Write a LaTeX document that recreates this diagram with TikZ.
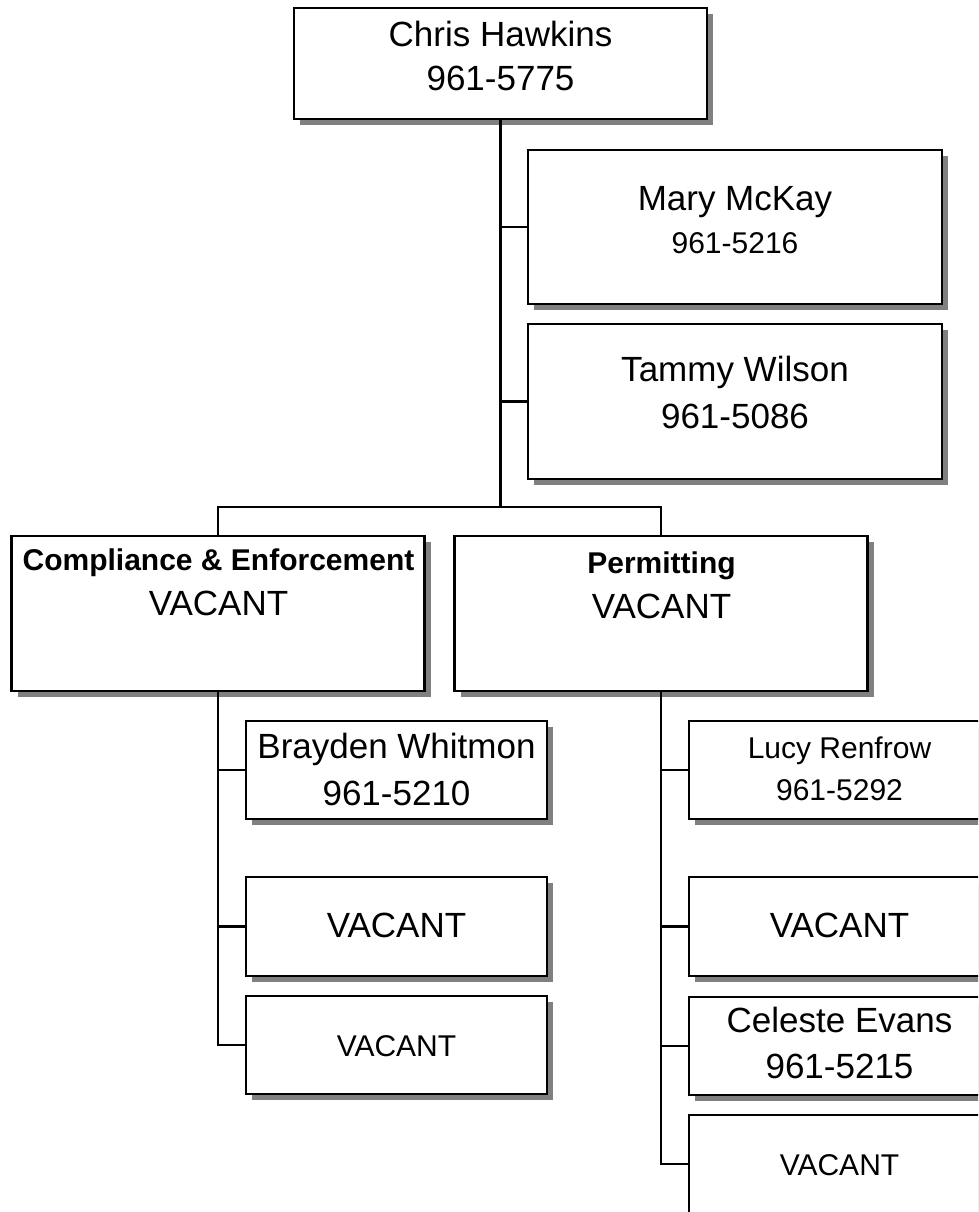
\documentclass[tikz,border=0pt]{standalone}
\usepackage{fontspec}
\setmainfont{Liberation Sans}
\usetikzlibrary{shadows}
\definecolor{shadowgray}{RGB}{128,128,128}
\begin{document}
\begin{tikzpicture}[x=1pt,y=-1pt,
  orgbox/.style={draw=black, line width=2.8pt, fill=white, rectangle, inner sep=0pt, outer sep=0pt,
    drop shadow={shadow xshift=6pt, shadow yshift=-6pt, fill=shadowgray, opacity=1}},
  link/.style={draw=black, line width=2.3pt},
  big/.style={font=\fontsize{35}{42}\selectfont, anchor=base, inner sep=0pt},
  small/.style={font=\fontsize{30}{36}\selectfont, anchor=base, inner sep=0pt},
  head/.style={font=\bfseries\fontsize{30}{36}\selectfont, anchor=base, inner sep=0pt}]
\path[use as bounding box] (0,0) rectangle (978,1212);
\clip (0,0) rectangle (978,1212);

% boxes
\node[orgbox, minimum width=413pt, minimum height=111pt] (chris) at (500.5,63.5) {};
\node[orgbox, minimum width=414pt, minimum height=154pt] (mary) at (735,227) {};
\node[orgbox, minimum width=414pt, minimum height=155pt] (tammy) at (735,401.5) {};
\node[orgbox, minimum width=413pt, minimum height=155pt] (comp) at (218,613.5) {};
\node[orgbox, minimum width=413pt, minimum height=155pt] (perm) at (661,613.5) {};
\node[orgbox, minimum width=301pt, minimum height=98pt] (brayden) at (396.5,770) {};
\node[orgbox, minimum width=301pt, minimum height=99pt] (cvac1) at (396.5,926.5) {};
\node[orgbox, minimum width=301pt, minimum height=98pt] (cvac2) at (396.5,1045) {};
\node[orgbox, minimum width=301pt, minimum height=98pt] (lucy) at (839.5,770) {};
\node[orgbox, minimum width=301pt, minimum height=99pt] (pvac1) at (839.5,926.5) {};
\node[orgbox, minimum width=301pt, minimum height=98pt] (celeste) at (839.5,1046) {};
\node[orgbox, minimum width=301pt, minimum height=98pt] (pvac2) at (839.5,1164) {};

% texts
\node[big] (t1a) at (500.5,46.7) {Chris Hawkins};
\node[big] (t1b) at (500.5,90.7) {961-5775};
\node[big] (t2a) at (735,210.7) {Mary McKay};
\node[small] (t2b) at (735,253) {961-5216};
\node[big] (t3a) at (735,381.7) {Tammy Wilson};
\node[big] (t3b) at (735,428.3) {961-5086};
\node[head] (t4a) at (218.5,570) {Compliance \& Enforcement};
\node[big] (t4b) at (218.5,615) {VACANT};
\node[head] (t5a) at (661.5,573) {Permitting};
\node[big] (t5b) at (661.5,618) {VACANT};
\node[big] (t6a) at (396.5,758.3) {Brayden Whitmon};
\node[big] (t6b) at (396.5,805) {961-5210};
\node[big] (t7) at (396.5,937.5) {VACANT};
\node[small] (t8) at (396.5,1056) {VACANT};
\node[small] (t9a) at (839.5,758.3) {Lucy Renfrow};
\node[small] (t9b) at (839.5,800) {961-5292};
\node[big] (t10) at (839.5,937) {VACANT};
\node[big] (t11a) at (839.5,1032.7) {Celeste Evans};
\node[big] (t11b) at (839.5,1078.3) {961-5215};
\node[small] (t12) at (839.5,1175) {VACANT};

% connectors
\coordinate (bus) at (500.5,507);
\draw[link] (chris.south) -- (bus);
\draw[link] (chris.south |- mary.west) -- (mary.west);
\draw[link] (chris.south |- tammy.west) -- (tammy.west);
\draw[link] (comp.north) |- (bus) -| (perm.north);
\draw[link] (comp.south) |- (cvac2.west);
\draw[link] (comp.south |- brayden.west) -- (brayden.west);
\draw[link] (comp.south |- cvac1.west) -- (cvac1.west);
\draw[link] (perm.south) |- (pvac2.west);
\draw[link] (perm.south |- lucy.west) -- (lucy.west);
\draw[link] (perm.south |- pvac1.west) -- (pvac1.west);
\draw[link] (perm.south |- celeste.west) -- (celeste.west);
\end{tikzpicture}
\end{document}
